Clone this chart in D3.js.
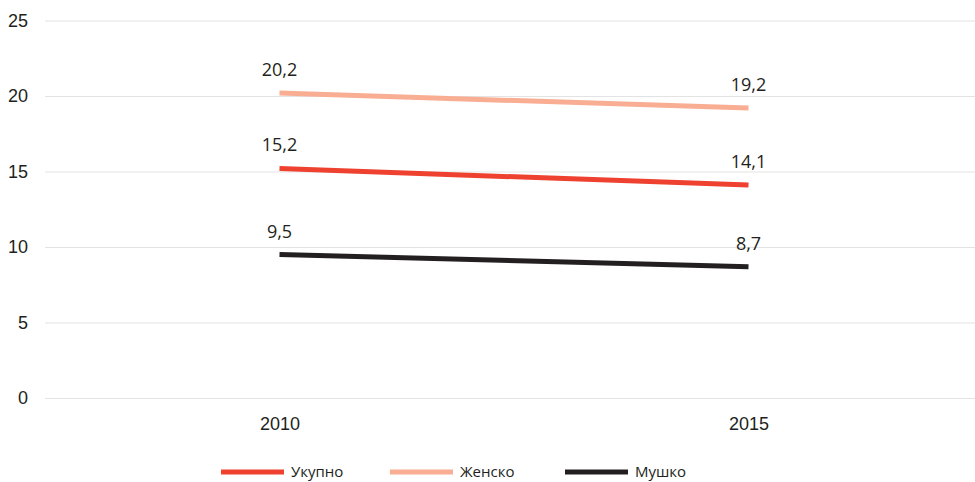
<!DOCTYPE html>
<html><head><meta charset="utf-8">
<script src="https://cdn.jsdelivr.net/npm/d3@7"></script>
<style>body{margin:0;background:#fff}svg{display:block;font-family:"Open Sans",sans-serif}</style>
</head><body><svg id="c" width="975" height="482"></svg>
<script>
const years = ["2010", "2015"];
const seriesNames = ["Укупно", "Женско", "Мушко"];
const ukupno = [15.2, 14.1];
const zensko = [20.2, 19.2];
const musko = [9.5, 8.7];
const yTicks = [0, 5, 10, 15, 20, 25];
const colors = ["#EE4130", "#F9AE94", "#231F20"];

const series = [ukupno, zensko, musko].map((v, i) => ({name: seriesNames[i], values: v, color: colors[i]}));
const svg = d3.select("#c");
const x = d3.scalePoint().domain(years).range([45, 983]).padding(0.5);
const y = d3.scaleLinear().domain([0, 25]).range([398, 20.5]);
const fmt = v => d3.format(".1f")(v).replace(".", ",");

const yAxis = svg.append("g").attr("transform", "translate(45,0)")
  .call(d3.axisLeft(y).tickValues(yTicks).tickSize(-940).tickPadding(17));
yAxis.select(".domain").remove();
yAxis.selectAll(".tick line").attr("stroke", "#e3e3e3").attr("stroke-width", 1.2);
yAxis.selectAll(".tick text").attr("fill", "#231f20").attr("font-size", 18);

const xAxis = svg.append("g").attr("transform", "translate(0,398)")
  .call(d3.axisBottom(x).tickSize(0).tickPadding(19));
xAxis.select(".domain").remove();
xAxis.selectAll(".tick text").attr("fill", "#231f20").attr("font-size", 18);

const line = d3.line().x((d, i) => x(years[i])).y(d => y(d));
series.forEach(s => {
  svg.append("path").attr("d", line(s.values)).attr("fill", "none")
    .attr("stroke", s.color).attr("stroke-width", 5);
  svg.append("g").selectAll("text").data(s.values).join("text")
    .attr("x", (d, i) => x(years[i])).attr("y", d => y(d) - 17)
    .attr("text-anchor", "middle").attr("font-size", 18).attr("fill", "#231f20")
    .text(fmt);
});

const legendX = [221, 390, 565];
const lg = svg.append("g");
series.forEach((s, i) => {
  lg.append("line").attr("x1", legendX[i]).attr("x2", legendX[i] + 63)
    .attr("y1", 472).attr("y2", 472).attr("stroke", s.color).attr("stroke-width", 5);
  lg.append("text").attr("x", legendX[i] + 70).attr("y", 477)
    .attr("font-size", 15).attr("fill", "#231f20").text(s.name);
});
</script></body></html>
